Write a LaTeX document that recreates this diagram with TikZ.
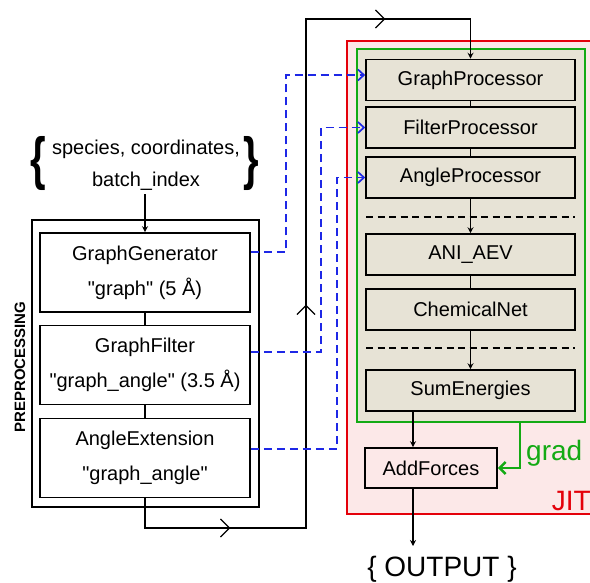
\documentclass[tikz,border=0pt]{standalone}
\usepackage{fontspec}
\usepackage{graphicx}
\setmainfont{Liberation Sans}
\usetikzlibrary{arrows.meta,decorations.markings,calc}
\definecolor{beige}{RGB}{231,227,214}
\definecolor{jitpink}{RGB}{252,232,232}
\definecolor{jitred}{RGB}{228,0,10}
\definecolor{gradgreen}{RGB}{20,170,20}
\definecolor{linkblue}{RGB}{30,40,230}
\newcommand{\qq}{\textquotedbl}
\begin{document}
\begin{tikzpicture}[x=1pt,y=-1pt,
  prebox/.style={draw=black,line width=1.6pt,fill=white,minimum width=210pt,minimum height=79pt,inner sep=0pt,align=center,font=\fontsize{20}{35}\selectfont},
  proc/.style={draw=black,line width=1.6pt,fill=beige,minimum width=209pt,minimum height=41pt,inner sep=0pt,font=\fontsize{20}{24}\selectfont},
  bigbrace/.style={inner sep=0pt,font=\fontsize{40}{40}\bfseries},
  conn/.style={line width=1.2pt},
  tip/.style={-{Stealth[length=6pt,width=6pt,inset=2pt]}},
  sepline/.style={line width=1.4pt,dash pattern=on 7pt off 4.5pt},
  blueconn/.style={linkblue,line width=1.7pt,dash pattern=on 8pt off 5pt,-{Straight Barb[length=6pt,width=11pt]}},
  mainconn/.style={line width=1.2pt,-{Stealth[length=6pt,width=6pt,inset=2pt]},
    postaction={decorate},
    decoration={markings,
      mark=at position 115pt with {\arrow{Straight Barb[length=9pt,width=18pt]}},
      mark=at position 414pt with {\arrow{Straight Barb[length=9pt,width=18pt]}},
      mark=at position 779pt with {\arrow{Straight Barb[length=9pt,width=18pt]}}}},
]
\useasboundingbox (0,0) rectangle (590,582);

% JIT container
\fill[jitpink] (347,41) rectangle (590,514);
\draw[jitred,line width=2.6pt] (592,41) -- (347,41) -- (347,514) -- (592,514);
\node[jitred,font=\fontsize{28}{30}\selectfont,anchor=base east,inner sep=0pt] (jit) at (591,510) {JIT};

% green container
\node[draw=gradgreen,line width=2.6pt,fill=beige,minimum width=228pt,minimum height=373pt,inner sep=0pt] (gbox) at (471,235.5) {};

% preprocessing container
\node[draw=black,line width=1.6pt,minimum width=227pt,minimum height=287pt,inner sep=0pt] (pre) at (145.5,363.5) {};
\node[rotate=90,font=\bfseries\fontsize{15}{18}\selectfont,inner sep=0pt] (prelabel) at (20,367) {PREPROCESSING};

% input
\node[font=\fontsize{20}{32}\selectfont,inner sep=0pt,align=center] (inp) at (146,165)
  {species, coordinates,\\batch\_index};
\node[bigbrace] (lb) at (38,163) {\scalebox{1}[1.45]{\{}};
\node[bigbrace] (rb) at (251,163) {\scalebox{1}[1.45]{\}}};
\coordinate (inbot) at (145,194);

% preprocessing boxes
\node[prebox] (gg) at (145,272.5) {GraphGenerator\\\qq graph\qq{} (5 Å)};
\node[prebox] (gf) at (145,365) {GraphFilter\\\qq graph\_angle\qq{} (3.5 Å)};
\node[prebox] (ae) at (145,458) {AngleExtension\\\qq graph\_angle\qq};

% JIT boxes
\node[proc] (gp) at (470.5,80) {GraphProcessor};
\node[proc] (fp) at (470.5,127.5) {FilterProcessor};
\node[proc] (ap) at (470.5,177.5) {AngleProcessor};
\node[proc] (ani) at (470.5,254.5) {ANI\_AEV};
\node[proc] (cn) at (470.5,309.5) {ChemicalNet};
\node[proc] (se) at (470.5,390.5) {SumEnergies};
\node[proc,fill=jitpink,minimum width=132pt,minimum height=40pt] (af) at (431,468) {AddForces};

\node[font=\fontsize{28}{30}\selectfont,anchor=base,inner sep=0pt] (out) at (442,576) {\{ OUTPUT \}};

% dashed separators
\draw[sepline] (366,217) -- (575,217);
\draw[sepline] (366,348) -- (575,348);

% connectors
\draw[conn,tip] (inbot) -- (gg.north);
\draw[conn] (gg) -- (gf);
\draw[conn] (gf) -- (ae);
\draw[conn] (gp) -- (fp);
\draw[conn] (fp) -- (ap);
\draw[conn,tip] (ap) -- (ani);
\draw[conn] (ani) -- (cn);
\draw[conn,tip] (cn) -- (se);

\coordinate (ox) at (413,0);
\coordinate (oend) at (413,546);
\draw[conn,tip] (se.south -| ox) -- (af.north -| ox);
\draw[conn,tip] (af.south -| ox) -- (oend);

\coordinate (c1) at (306,528);
\coordinate (c2) at (306,19);
\draw[mainconn] (ae.south) |- (c1) -- (c2) -| (gp.north);

% blue links
\coordinate (b1) at (286,0);
\coordinate (b2) at (321,0);
\coordinate (b3) at (337,0);
\coordinate (g1) at ([yshift=5pt]gp.west);
\draw[blueconn] ([yshift=-20pt]gg.north east) -| (b1 |- g1) -- (g1);
\draw[blueconn] ([yshift=-27pt]gf.north east) -| (b2 |- fp.west) -- (fp.west);
\draw[blueconn] ([yshift=-31pt]ae.north east) -| (b3 |- ap.west) -- (ap.west);

% grad
\coordinate (gx) at (520,0);
\draw[gradgreen,line width=2.6pt,-{Straight Barb[length=6pt,width=12pt]}] (gbox.south -| gx) |- (af.east);
\node[gradgreen,font=\fontsize{28}{30}\selectfont,anchor=base west,inner sep=0pt] (grad) at (526,460) {grad};
\end{tikzpicture}
\end{document}
